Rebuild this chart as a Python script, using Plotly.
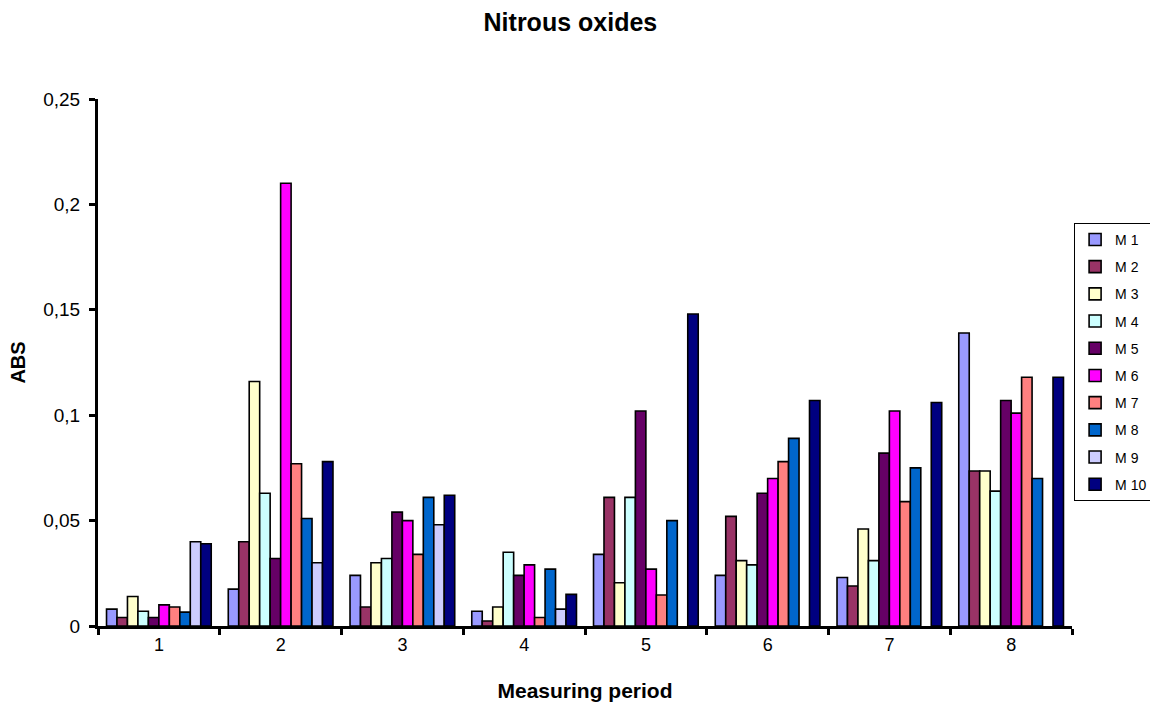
import plotly.graph_objects as go

periods = ["1", "2", "3", "4", "5", "6", "7", "8"]
series_names = ["M 1", "M 2", "M 3", "M 4", "M 5", "M 6", "M 7", "M 8", "M 9", "M 10"]

m1 = [0.008, 0.0175, 0.024, 0.007, 0.034, 0.024, 0.023, 0.139]
m2 = [0.004, 0.040, 0.009, 0.0024, 0.061, 0.052, 0.019, 0.0735]
m3 = [0.014, 0.116, 0.030, 0.009, 0.0205, 0.031, 0.046, 0.0735]
m4 = [0.007, 0.063, 0.032, 0.035, 0.061, 0.029, 0.031, 0.064]
m5 = [0.004, 0.032, 0.054, 0.024, 0.102, 0.063, 0.082, 0.107]
m6 = [0.010, 0.210, 0.050, 0.029, 0.027, 0.070, 0.102, 0.101]
m7 = [0.009, 0.077, 0.034, 0.004, 0.0147, 0.078, 0.059, 0.118]
m8 = [0.0066, 0.051, 0.061, 0.027, 0.050, 0.089, 0.075, 0.070]
m9 = [0.040, 0.030, 0.048, 0.008, None, None, None, None]
m10 = [0.039, 0.078, 0.062, 0.015, 0.148, 0.107, 0.106, 0.118]

series_values = [m1, m2, m3, m4, m5, m6, m7, m8, m9, m10]
colors = ["#9999FF", "#993366", "#FFFFCC", "#CCFFFF", "#660066",
          "#FF00FF", "#FF8080", "#0066CC", "#CCCCFF", "#000080"]

y_tickvals = [0, 0.05, 0.1, 0.15, 0.2, 0.25]
y_ticktext = ["0", "0,05", "0,1", "0,15", "0,2", "0,25"]

FONT = "Arial, Liberation Sans, sans-serif"

fig = go.Figure()
for name, vals, col in zip(series_names, series_values, colors):
    fig.add_trace(go.Bar(
        x=periods, y=vals, name=name, legendgroup=name,
        marker=dict(color=col, line=dict(color="black", width=1.6)),
    ))

fig.update_layout(
    width=1150, height=704,
    paper_bgcolor="white", plot_bgcolor="white",
    margin=dict(l=98, r=78, t=99, b=78, autoexpand=False),
    barmode="group", bargap=0.14, bargroupgap=0,
    font=dict(family=FONT, color="black", size=16),
    title=dict(text="<b>Nitrous oxides</b>", x=0.496, xref="container",
               xanchor="center", y=0.969, yref="container", yanchor="middle",
               font=dict(family=FONT, size=25, color="black")),
    legend=dict(
        xref="container", yref="container",
        x=0.934, xanchor="left", y=0.486, yanchor="middle",
        bordercolor="black", borderwidth=1, bgcolor="white",
        font=dict(family=FONT, size=14, color="black"),
        traceorder="grouped", tracegroupgap=6,
        itemwidth=30,
    ),
    xaxis=dict(
        type="category", showline=True, linecolor="black", linewidth=3,
        ticks="outside", tickson="boundaries", ticklen=6, tickwidth=3,
        tickcolor="black", showgrid=False,
        tickfont=dict(family=FONT, size=18, color="black"),
        title=dict(text="<b>Measuring period</b>", standoff=30,
                   font=dict(family=FONT, size=21, color="black")),
    ),
    yaxis=dict(
        range=[0, 0.25], showline=True, linecolor="black", linewidth=3,
        ticks="outside", ticklen=6, tickwidth=3, tickcolor="black",
        tickvals=y_tickvals, ticktext=y_ticktext, ticklabelstandoff=5,
        showgrid=False, zeroline=False,
        tickfont=dict(family=FONT, size=19, color="black"),
        title=dict(text="<b>ABS</b>", standoff=13,
                   font=dict(family=FONT, size=20, color="black")),
    ),
)

fig.write_html("out.html")
